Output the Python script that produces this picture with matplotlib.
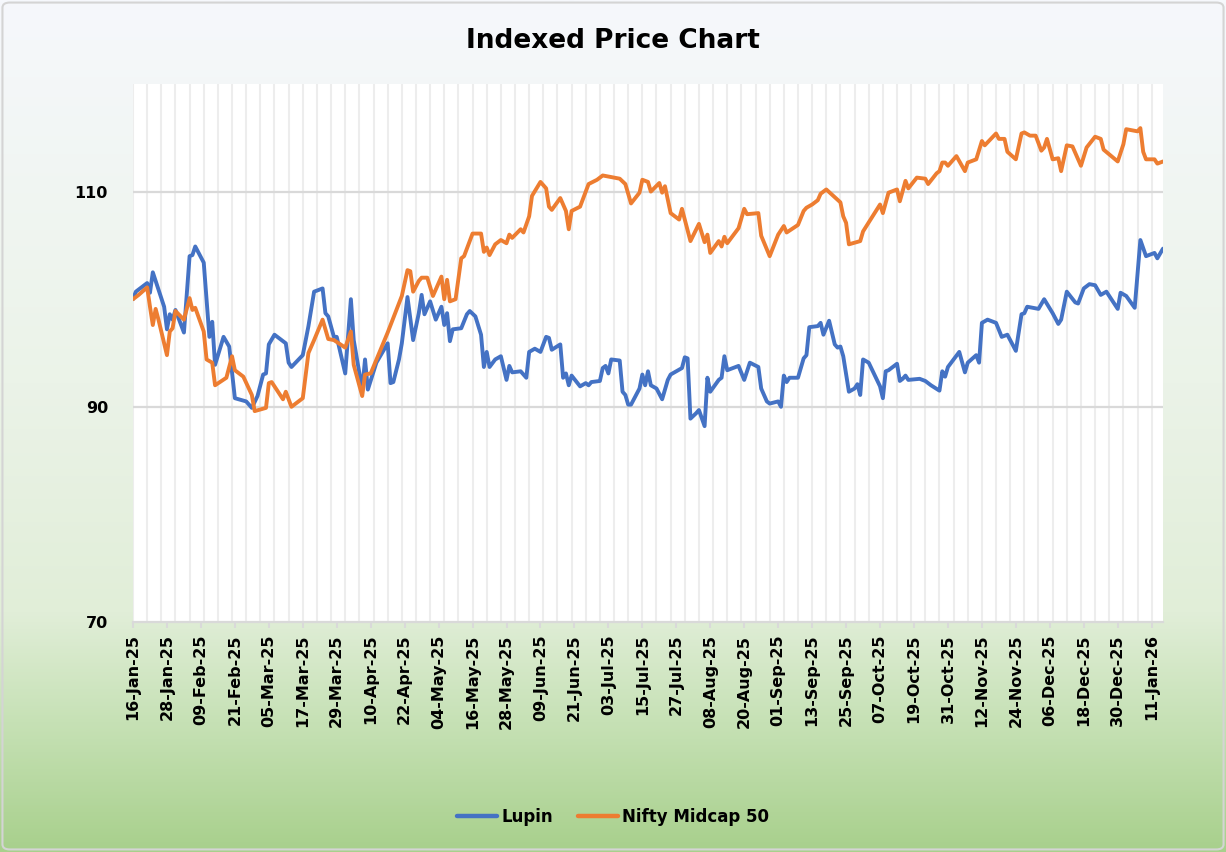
import numpy as np
import pandas as pd
import matplotlib
matplotlib.use('Agg')
import matplotlib.pyplot as plt
import matplotlib.dates as mdates
from matplotlib.colors import LinearSegmentedColormap
from matplotlib.patches import FancyBboxPatch
from matplotlib.lines import Line2D

# ---------------- data ----------------
start_date = '2025-01-16'
end_date = '2026-01-15'

lupin_days = [0, 1, 5, 6, 7, 11, 12, 13, 14, 15, 18, 20, 21, 22, 25, 27, 28, 29, 32, 34,
              36, 40, 42, 44, 46, 47, 48, 50, 54, 55, 56, 60, 62, 64, 67, 68, 69, 71, 72, 75,
              77, 78, 81, 82, 83, 86, 90, 91, 92, 94, 95, 97, 99, 101, 102, 103, 105, 107, 109, 110,
              111, 112, 113, 116, 118, 119, 121, 123, 124, 125, 126, 128, 130, 132, 133, 134, 137, 139, 140, 142,
              144, 146, 147, 148, 151, 152, 153, 154, 155, 158, 160, 161, 162, 165, 166, 167, 168, 169, 172, 173,
              174, 175, 176, 179, 180, 181, 182, 183, 185, 187, 189, 190, 192, 194, 195, 196, 197, 199, 200, 202,
              203, 204, 207, 208, 209, 210, 214, 216, 218, 221, 222, 224, 225, 228, 229, 230, 231, 232, 235, 237,
              238, 239, 242, 243, 244, 246, 248, 249, 250, 251, 253, 255, 256, 257, 258, 260, 262, 264, 265, 266,
              267, 270, 271, 272, 273, 274, 278, 280, 282, 285, 286, 287, 288, 290, 292, 294, 295, 298, 299, 300,
              302, 305, 307, 309, 312, 314, 315, 316, 320, 322, 325, 327, 328, 330, 333, 334, 336, 338, 340, 342,
              344, 348, 349, 351, 354, 356, 358, 361, 362, 364]
lupin_vals = [100.0, 100.7, 101.5, 100.6, 102.5, 99.3, 97.2, 98.6, 98.1, 99.0, 96.9, 104.0, 104.1, 104.9, 103.4, 96.5, 97.9, 93.9, 96.5, 95.6,
              90.8, 90.5, 89.9, 91.0, 93.0, 93.1, 95.8, 96.7, 95.9, 94.1, 93.7, 94.8, 97.5, 100.7, 101.0, 98.7, 98.4, 96.5, 96.5, 93.1,
              100.0, 96.2, 91.6, 94.4, 91.6, 94.1, 95.9, 92.2, 92.3, 94.4, 95.9, 100.2, 96.2, 98.7, 100.4, 98.6, 99.8, 98.1, 99.3, 97.6,
              98.7, 96.1, 97.2, 97.3, 98.6, 98.9, 98.4, 96.7, 93.7, 95.1, 93.7, 94.4, 94.7, 92.5, 93.8, 93.2, 93.3, 92.7, 95.1, 95.4,
              95.1, 96.5, 96.4, 95.3, 95.8, 92.7, 93.1, 92.0, 92.9, 91.9, 92.2, 92.0, 92.3, 92.4, 93.6, 93.8, 93.1, 94.4, 94.3, 91.4,
              91.1, 90.2, 90.2, 91.7, 93.0, 92.0, 93.3, 92.0, 91.7, 90.7, 92.5, 93.0, 93.3, 93.6, 94.6, 94.5, 88.9, 89.4, 89.7, 88.2,
              92.7, 91.4, 92.5, 92.7, 94.7, 93.4, 93.8, 92.5, 94.1, 93.7, 91.7, 90.5, 90.3, 90.5, 90.0, 92.9, 92.3, 92.7, 92.7, 94.5,
              94.8, 97.4, 97.5, 97.8, 96.7, 98.0, 95.8, 95.5, 95.6, 94.7, 91.4, 91.7, 92.1, 91.1, 94.4, 94.1, 93.0, 91.9, 90.8, 93.3,
              93.4, 94.0, 92.4, 92.6, 92.9, 92.5, 92.6, 92.4, 92.0, 91.5, 93.3, 92.8, 93.7, 94.4, 95.1, 93.2, 94.1, 94.8, 94.1, 97.8,
              98.1, 97.8, 96.5, 96.7, 95.2, 98.6, 98.7, 99.3, 99.1, 100.0, 98.7, 97.7, 98.1, 100.7, 99.7, 99.6, 101.0, 101.4, 101.3, 100.4,
              100.7, 99.1, 100.6, 100.3, 99.2, 105.5, 104.0, 104.3, 103.8, 104.7]

nifty_days = [0, 2, 5, 6, 7, 8, 9, 11, 12, 13, 14, 15, 18, 20, 21, 22, 25, 26, 28, 29,
              33, 35, 36, 39, 42, 43, 47, 48, 49, 53, 54, 56, 60, 62, 64, 67, 69, 71, 75, 77,
              78, 81, 82, 84, 90, 94, 95, 97, 98, 99, 101, 102, 104, 106, 109, 110, 111, 112, 114, 116,
              117, 120, 123, 124, 125, 126, 128, 130, 132, 133, 134, 137, 138, 140, 141, 144, 146, 147, 148, 151,
              153, 154, 155, 158, 161, 164, 166, 168, 172, 174, 176, 179, 180, 182, 183, 186, 187, 188, 190, 193,
              194, 197, 200, 202, 203, 204, 207, 208, 209, 210, 214, 216, 217, 221, 222, 225, 228, 230, 231, 235,
              237, 238, 240, 242, 243, 245, 250, 251, 252, 253, 257, 258, 264, 265, 267, 270, 271, 273, 274, 277,
              280, 281, 284, 285, 286, 287, 288, 291, 294, 295, 298, 300, 301, 305, 306, 308, 309, 312, 314, 315,
              317, 319, 321, 322, 323, 325, 327, 328, 330, 332, 335, 337, 340, 342, 343, 348, 350, 351, 355, 356,
              357, 358, 361, 362, 364]
nifty_vals = [100.0, 100.4, 101.1, 99.3, 97.6, 99.1, 98.1, 95.9, 94.8, 97.0, 97.3, 98.9, 98.1, 100.1, 99.0, 99.2, 97.0, 94.4, 94.1, 92.0,
              92.7, 94.7, 93.4, 92.8, 91.1, 89.6, 89.9, 92.2, 92.3, 90.7, 91.4, 90.0, 90.8, 95.0, 96.2, 98.1, 96.3, 96.2, 95.5, 97.0,
              93.9, 91.0, 93.0, 93.1, 96.9, 99.6, 100.3, 102.7, 102.6, 100.7, 101.7, 102.0, 102.0, 100.3, 102.1, 100.0, 101.8, 99.8, 100.0, 103.8,
              104.0, 106.1, 106.1, 104.4, 104.8, 104.1, 105.1, 105.5, 105.2, 106.0, 105.7, 106.5, 106.2, 107.7, 109.6, 110.9, 110.3, 108.6, 108.3, 109.4,
              108.2, 106.5, 108.2, 108.6, 110.7, 111.1, 111.5, 111.4, 111.2, 110.7, 108.9, 109.9, 111.1, 110.9, 110.0, 110.8, 109.9, 110.5, 108.0, 107.4,
              108.4, 105.4, 107.0, 105.3, 106.0, 104.3, 105.4, 104.9, 105.8, 105.2, 106.6, 108.4, 107.9, 108.0, 105.9, 104.0, 106.0, 106.8, 106.2, 106.9,
              108.2, 108.5, 108.8, 109.2, 109.8, 110.2, 109.0, 107.7, 107.1, 105.1, 105.4, 106.3, 108.8, 108.0, 109.9, 110.2, 109.1, 111.0, 110.3, 111.3,
              111.2, 110.7, 111.7, 111.9, 112.7, 112.7, 112.4, 113.3, 111.9, 112.7, 113.0, 114.7, 114.3, 115.4, 114.9, 114.9, 113.7, 113.0, 115.4, 115.5,
              115.2, 115.2, 113.8, 114.1, 114.9, 113.0, 113.1, 111.9, 114.3, 114.2, 112.4, 114.1, 115.1, 114.9, 113.9, 112.8, 114.4, 115.8, 115.6, 115.9,
              113.7, 113.0, 113.0, 112.6, 112.8]

series_names = ['Lupin', 'Nifty Midcap 50']
series_colors = ['#4472C4', '#ED7D31']
title_text = 'Indexed Price Chart'
y_ticks = [70, 90, 110]

# ---------------- figure ----------------
W, H = 1226, 852
fig = plt.figure(figsize=(W / 100, H / 100), dpi=100)

# gradient background
bg = fig.add_axes([0, 0, 1, 1], zorder=-10)
bg.set_axis_off()
cmap = LinearSegmentedColormap.from_list('bg', [
    (0.0, '#f6f8fc'), (0.45, '#ebf3e8'), (0.72, '#e1eed8'),
    (0.85, '#c6e1b5'), (1.0, '#a8d08c')])
grad = np.linspace(0, 1, 512).reshape(-1, 1)
bg.imshow(grad, aspect='auto', cmap=cmap, extent=[0, 1, 0, 1], origin='upper')
bg.set_xlim(0, 1)
bg.set_ylim(0, 1)
bg.add_patch(FancyBboxPatch((0.002, 0.003), 0.996, 0.994,
                            boxstyle='round,pad=0,rounding_size=0.006',
                            transform=bg.transAxes, fill=False,
                            edgecolor='#d4d4d4', linewidth=1.5))

ax = fig.add_axes([133 / W, 1 - 622 / H, (1163 - 133) / W, (622 - 84) / H])
ax.set_facecolor('white')

start = pd.Timestamp(start_date)
end = pd.Timestamp(end_date)
lupin_dates = start + pd.to_timedelta(lupin_days, unit='D')
nifty_dates = start + pd.to_timedelta(nifty_days, unit='D')

# vertical gridlines every 5 days
for d in pd.date_range(start, end, freq='5D'):
    ax.axvline(d, color='#ededed', lw=1.5, zorder=1)
for v in y_ticks[1:]:
    ax.axhline(v, color='#d9d9d9', lw=1.6, zorder=1)

ax.plot(lupin_dates, lupin_vals, color=series_colors[0], lw=2.8,
        solid_joinstyle='round', solid_capstyle='round', zorder=3)
ax.plot(nifty_dates, nifty_vals, color=series_colors[1], lw=2.8,
        solid_joinstyle='round', solid_capstyle='round', zorder=3)

ax.set_xlim(start, end)
ax.set_ylim(70, 120)
ax.set_yticks(y_ticks)
ax.set_xticks(pd.date_range(start, end, freq='12D'))
ax.xaxis.set_major_formatter(mdates.DateFormatter('%d-%b-%y'))

for s in ['top', 'right', 'left']:
    ax.spines[s].set_visible(False)
ax.spines['bottom'].set_color('#d9d9d9')
ax.spines['bottom'].set_linewidth(1.6)

font = 'DejaVu Sans'
ax.tick_params(axis='y', length=0, pad=18, labelsize=11.5)
ax.tick_params(axis='x', length=4, width=1.5, color='#d9d9d9', pad=5,
               labelsize=11.5, labelrotation=90)
for lab in ax.get_xticklabels() + ax.get_yticklabels():
    lab.set_fontweight('bold')
    lab.set_family(font)
    lab.set_color('black')

fig.text(0.5, 1 - 41 / H, title_text, ha='center', va='center',
         fontsize=19, fontweight='bold', family=font)

handles = [Line2D([0], [0], color=c, lw=3.2, solid_capstyle='round') for c in series_colors]
leg = fig.legend(handles, series_names, loc='center', bbox_to_anchor=(0.5, 1 - 817 / H),
                 ncol=2, frameon=False, handlelength=2.4, handletextpad=0.25,
                 columnspacing=1.5, prop={'family': font, 'weight': 'bold', 'size': 12})

fig.savefig('out.png', dpi=100)
